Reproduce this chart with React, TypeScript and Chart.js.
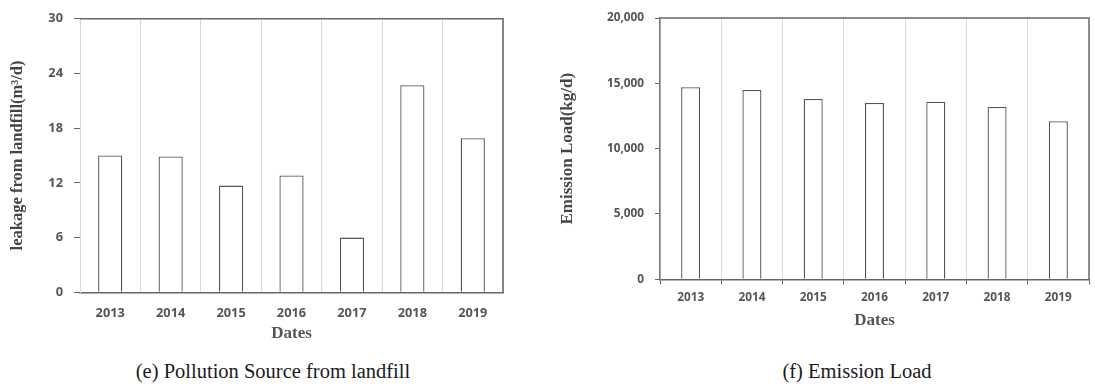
import React, { useEffect, useRef } from "react";
import { Chart, registerables } from "chart.js";

Chart.register(...registerables);

// Years on both category axes
const years = ["2013", "2014", "2015", "2016", "2017", "2018", "2019"];

// (e) leakage from landfill, m³/d
const leakage = [15.0, 14.9, 11.7, 12.8, 6.0, 22.7, 16.9];
const leakageMax = 30;
const leakageStep = 6;

// (f) emission load, kg/d
const emission = [14700, 14500, 13800, 13500, 13600, 13200, 12100];
const emissionMax = 20000;
const emissionStep = 5000;

const captions = ["(e) Pollution Source from landfill", "(f) Emission Load"];

const SANS = '"Open Sans", "DejaVu Sans", sans-serif';
const SERIF = '"Liberation Serif", "Times New Roman", serif';
const TICK_COLOR = "#555555";
const GRID_COLOR = "#dadada";

// Draws the top and right edges of the plot area as a frame.
const framePlugin = {
  id: "frame",
  afterDraw(chart: any, _args: any, opts: any) {
    const { ctx, chartArea } = chart;
    const { left, top, right, bottom } = chartArea;
    ctx.save();
    ctx.strokeStyle = opts.color;
    ctx.lineWidth = opts.width;
    ctx.beginPath();
    ctx.moveTo(left, top);
    ctx.lineTo(right, top);
    ctx.lineTo(right, bottom);
    ctx.stroke();
    ctx.restore();
  },
};

function BarPanel({ width, height, config }: { width: number; height: number; config: any }) {
  const ref = useRef<HTMLCanvasElement>(null);
  useEffect(() => {
    const chart = new Chart(ref.current as HTMLCanvasElement, config);
    return () => chart.destroy();
  }, []);
  return (
    <canvas
      ref={ref}
      width={width}
      height={height}
      style={{ width, height, display: "block" }}
    />
  );
}

const leakageConfig = {
  type: "bar",
  data: {
    labels: years,
    datasets: [
      {
        data: leakage,
        backgroundColor: "#ffffff",
        borderColor: "#555555",
        borderWidth: 1.3,
        barPercentage: 0.4,
        categoryPercentage: 1,
      },
    ],
  },
  plugins: [framePlugin],
  options: {
    responsive: false,
    animation: false,
    layout: { padding: { top: 12, right: 42, left: 0, bottom: 0 } },
    plugins: {
      legend: { display: false },
      tooltip: { enabled: false },
      frame: { color: "#666666", width: 1.5 },
    },
    scales: {
      x: {
        grid: { color: GRID_COLOR, drawTicks: false, offset: true },
        border: { color: "#666666", width: 1.5 },
        ticks: {
          padding: 13,
          color: TICK_COLOR,
          font: { family: SANS, size: 12.8, weight: "bold" },
        },
        title: {
          display: true,
          text: "Dates",
          color: "#555555",
          font: { family: SERIF, size: 17, weight: "bold" },
          padding: { top: 0, bottom: 6 },
        },
        afterFit(scale: any) {
          scale.height = 57.7;
        },
      },
      y: {
        min: 0,
        max: leakageMax,
        ticks: {
          stepSize: leakageStep,
          padding: 11,
          color: TICK_COLOR,
          font: { family: SANS, size: 12.8, weight: "bold" },
        },
        grid: { drawOnChartArea: false, tickLength: 6, tickColor: "#666666" },
        border: { color: GRID_COLOR },
        title: {
          display: true,
          text: "leakage from landfill(m³/d)",
          color: "#444444",
          font: { family: SERIF, size: 16.5, weight: "bold" },
          padding: { top: 8, bottom: 0 },
        },
        afterFit(scale: any) {
          scale.width = 80;
        },
      },
    },
  },
};

const emissionConfig = {
  type: "bar",
  data: {
    labels: years,
    datasets: [
      {
        data: emission,
        backgroundColor: "#ffffff",
        borderColor: "#555555",
        borderWidth: 1.3,
        barPercentage: 0.31,
        categoryPercentage: 1,
      },
    ],
  },
  plugins: [framePlugin],
  options: {
    responsive: false,
    animation: false,
    layout: { padding: { top: 10.7, right: 6, left: 0, bottom: 0 } },
    plugins: {
      legend: { display: false },
      tooltip: { enabled: false },
      frame: { color: "#8c8c8c", width: 2 },
    },
    scales: {
      x: {
        grid: {
          color: GRID_COLOR,
          tickColor: "#666666",
          tickLength: 5,
          offset: true,
        },
        border: { color: "#666666", width: 1.5 },
        ticks: {
          padding: 6,
          color: TICK_COLOR,
          font: { family: SANS, size: 11.8, weight: "bold" },
        },
        title: {
          display: true,
          text: "Dates",
          color: "#555555",
          font: { family: SERIF, size: 17, weight: "bold" },
          padding: { top: 0, bottom: 19 },
        },
        afterFit(scale: any) {
          scale.height = 70.7;
        },
      },
      y: {
        min: 0,
        max: emissionMax,
        ticks: {
          stepSize: emissionStep,
          padding: 11,
          color: TICK_COLOR,
          font: { family: SANS, size: 11.8, weight: "bold" },
        },
        grid: { drawOnChartArea: false, tickLength: 5, tickColor: "#666666" },
        border: { color: "#777777", width: 1.5 },
        title: {
          display: true,
          text: "Emission Load(kg/d)",
          color: "#444444",
          font: { family: SERIF, size: 17, weight: "bold" },
          padding: { top: 12, bottom: 0 },
        },
        afterFit(scale: any) {
          scale.width = 115;
        },
      },
    },
  },
};

const captionStyle: React.CSSProperties = {
  position: "absolute",
  top: 359,
  width: 400,
  textAlign: "center",
  fontFamily: SERIF,
  fontSize: 20.5,
  lineHeight: "25px",
  color: "#1a1a1a",
  whiteSpace: "nowrap",
};

export default function App() {
  return (
    <div
      style={{
        position: "absolute",
        left: 0,
        top: 0,
        width: 1095,
        height: 386,
        background: "#ffffff",
        overflow: "hidden",
      }}
    >
      <div style={{ position: "absolute", left: 0, top: 0 }}>
        <BarPanel width={545} height={350} config={leakageConfig} />
      </div>
      <div style={{ position: "absolute", left: 545, top: 0 }}>
        <BarPanel width={550} height={350} config={emissionConfig} />
      </div>
      <div style={{ ...captionStyle, left: 273 - 200 }}>{captions[0]}</div>
      <div style={{ ...captionStyle, left: 857 - 200 }}>{captions[1]}</div>
    </div>
  );
}
